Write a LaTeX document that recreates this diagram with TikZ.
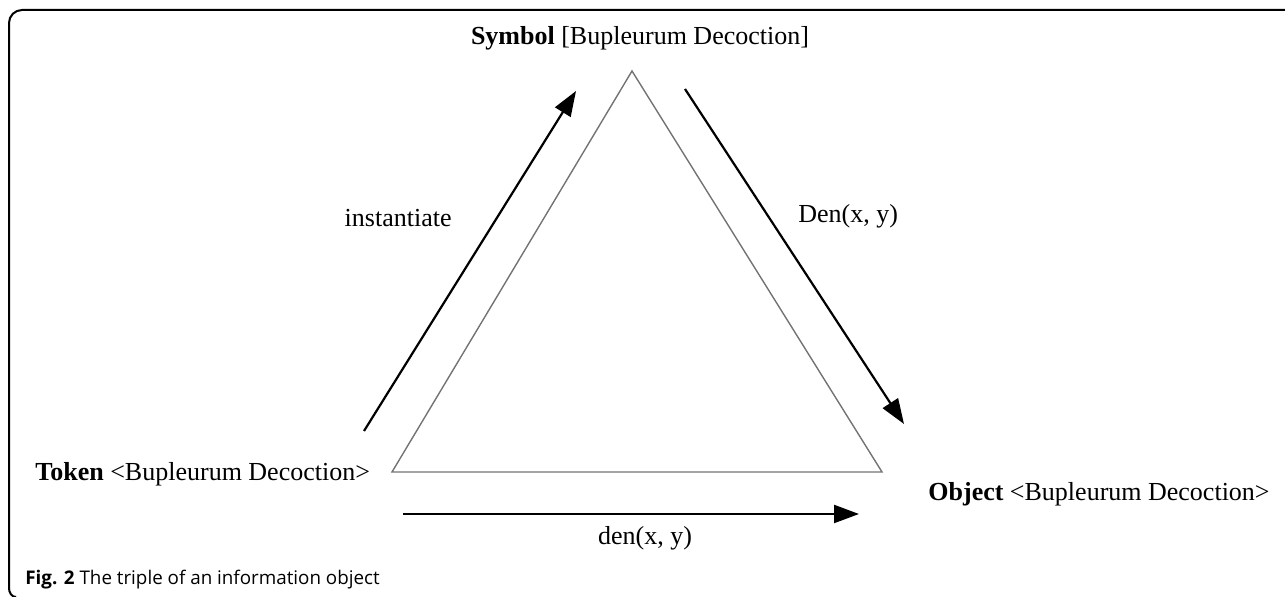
\documentclass[tikz,border=0pt]{standalone}
\usepackage{fontspec}
\setmainfont{Liberation Serif}
\newfontfamily\capfont{Open Sans}
\usetikzlibrary{arrows.meta}
\begin{document}
\begin{tikzpicture}[x=0.5pt,y=-0.5pt,
  lbl/.style={inner sep=0pt,font=\fontsize{13}{15}\selectfont},
  tri/.style={draw=black!55,line width=0.7pt},
  arr/.style={line width=1.1pt,-{Triangle[length=12.5pt,width=9pt]}},
  frame/.style={line width=1pt}]
\useasboundingbox (0,0) rectangle (1285,597);
% frame
\draw[frame] (1285,10) -- (22,10) to[out=180,in=90] (9,23) -- (9,588) to[out=-90,in=180] (16,597);
% triangle
\coordinate (A) at (632,71);
\coordinate (B) at (392,472);
\coordinate (C) at (882,472);
\draw[tri] (A) -- (B) -- (C) -- cycle;
% labels
\node[lbl,anchor=base] (sym) at (640,45) {\textbf{Symbol} [Bupleurum Decoction]};
\node[lbl,anchor=base west] (tok) at (35,481) {\textbf{Token} <Bupleurum Decoction>};
\node[lbl,anchor=base west] (obj) at (928,501) {\textbf{Object} <Bupleurum Decoction>};
\node[lbl,anchor=base east] (inst) at (452,227) {instantiate};
\node[lbl,anchor=base west] (Den) at (798,223) {Den(x, y)};
\node[lbl,anchor=base] (den) at (645,545) {den(x, y)};
% arrows
\coordinate (l1) at (364,431);
\coordinate (l2) at (576,91);
\coordinate (r1) at (685,89);
\coordinate (r2) at (904,424);
\coordinate (b1) at (403,514);
\coordinate (b2) at (859,514);
\draw[arr] (l1) -- (l2);
\draw[arr] (r1) -- (r2);
\draw[arr] (b1) -- (b2);
% caption
\node[anchor=base west,inner sep=0pt,font=\capfont\fontsize{9.4}{11}\selectfont] (cap) at (25,585) {\textbf{Fig. 2} The triple of an information object};
\end{tikzpicture}
\end{document}
